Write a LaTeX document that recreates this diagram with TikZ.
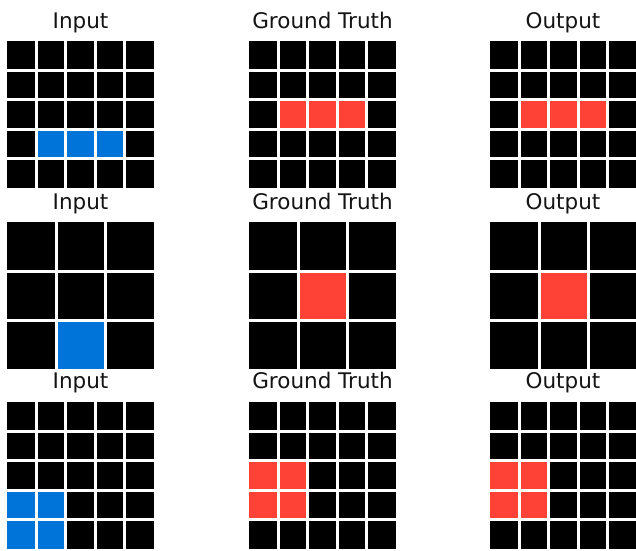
\documentclass[tikz,border=0pt]{standalone}
\usepackage{fontspec}
\setmainfont{DejaVu Sans}
\usepackage{xcolor}
\usepackage{tikz}
\definecolor{ARCBlack}{RGB}{0, 0, 0}
\definecolor{ARCBlue}{RGB}{0, 116, 217}
\definecolor{ARCRed}{RGB}{255, 65, 54}
\definecolor{ARCText}{RGB}{20, 20, 20}

\begin{document}
\begin{tikzpicture}[x=1pt,y=-1pt]
  \path[use as bounding box] (0,0) rectangle (636,550);
  \clip (0,0) rectangle (636,550);
  \fill[white] (0,0) rectangle (636,550);

  % Panel titles
  \foreach \cx/\by/\title/\name in {
    80.5/28/Input/inA, 322.5/28/Ground Truth/gtA, 563/28/Output/outA,
    80.5/209/Input/inB, 322.5/209/Ground Truth/gtB, 563/209/Output/outB,
    80.5/388/Input/inC, 322.5/388/Ground Truth/gtC, 563/388/Output/outC}{
    \node[anchor=base, inner sep=0pt, text=ARCText, font=\fontsize{21.5}{24}\selectfont]
      (\name) at (\cx,\by) {\title};
  }

  % Grids: left/top/cells per side/colour/coloured cells (col/row)
  \foreach \gx/\gy/\n/\hue/\cells in {
    7/41/5/ARCBlue/{1/3,2/3,3/3},
    249/41/5/ARCRed/{1/2,2/2,3/2},
    490/41/5/ARCRed/{1/2,2/2,3/2},
    7/222/3/ARCBlue/{1/2},
    249/222/3/ARCRed/{1/1},
    490/222/3/ARCRed/{1/1},
    7/402/5/ARCBlue/{0/3,1/3,0/4,1/4},
    249/402/5/ARCRed/{0/2,1/2,0/3,1/3},
    490/402/5/ARCRed/{0/2,1/2,0/3,1/3}}{
    \pgfmathsetmacro{\s}{147/\n}
    \pgfmathtruncatemacro{\m}{\n-1}
    \fill[ARCBlack] (\gx,\gy) rectangle ++(147,147);
    \foreach \ci/\rj in \cells
      \fill[\hue] ({\gx+\ci*\s},{\gy+\rj*\s}) rectangle ++(\s,\s);
    \foreach \k in {1,...,\m}{
      \draw[white, line width=3pt] ({\gx+\k*\s},\gy) -- ++(0,147);
      \draw[white, line width=3pt] (\gx,{\gy+\k*\s}) -- ++(147,0);
    }
  }
\end{tikzpicture}
\end{document}
